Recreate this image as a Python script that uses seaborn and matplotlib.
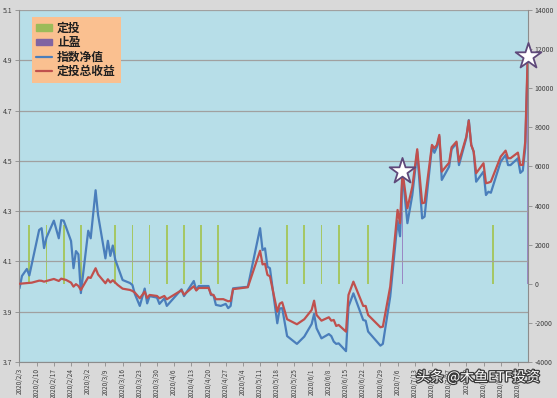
import numpy as np
import pandas as pd
import matplotlib
matplotlib.use('Agg')
import matplotlib.pyplot as plt
import matplotlib.dates as mdates
import matplotlib.patheffects as pe
from matplotlib.patches import Patch
from matplotlib.lines import Line2D
import seaborn as sns

sns.set_theme(style='white')
plt.rcParams['font.family'] = ['Noto Sans CJK SC', 'DejaVu Sans']
plt.rcParams['axes.unicode_minus'] = False

# ── data ────────────────────────────────────────────────────────────────────
# index net value (left axis)
nav_dates = ['2020-02-03', '2020-02-04', '2020-02-06', '2020-02-07', '2020-02-11', '2020-02-12',
             '2020-02-13', '2020-02-14', '2020-02-17', '2020-02-19', '2020-02-20', '2020-02-21',
             '2020-02-24', '2020-02-25', '2020-02-26', '2020-02-27', '2020-02-28', '2020-03-02',
             '2020-03-03', '2020-03-05', '2020-03-06', '2020-03-09', '2020-03-10', '2020-03-11',
             '2020-03-12', '2020-03-13', '2020-03-16', '2020-03-19', '2020-03-20', '2020-03-21',
             '2020-03-23', '2020-03-25', '2020-03-26', '2020-03-27', '2020-03-30', '2020-03-31',
             '2020-04-02', '2020-04-03', '2020-04-09', '2020-04-10', '2020-04-14', '2020-04-15',
             '2020-04-16', '2020-04-20', '2020-04-21', '2020-04-22', '2020-04-23', '2020-04-25',
             '2020-04-27', '2020-04-28', '2020-04-29', '2020-04-30', '2020-05-06', '2020-05-11',
             '2020-05-12', '2020-05-13', '2020-05-14', '2020-05-15', '2020-05-18', '2020-05-19',
             '2020-05-20', '2020-05-22', '2020-05-26', '2020-05-29', '2020-06-01', '2020-06-02',
             '2020-06-03', '2020-06-05', '2020-06-08', '2020-06-09', '2020-06-10', '2020-06-11',
             '2020-06-12', '2020-06-15', '2020-06-16', '2020-06-18', '2020-06-22', '2020-06-23',
             '2020-06-24', '2020-06-29', '2020-06-30', '2020-07-03', '2020-07-06', '2020-07-07',
             '2020-07-08', '2020-07-10', '2020-07-12', '2020-07-14', '2020-07-16', '2020-07-17',
             '2020-07-20', '2020-07-21', '2020-07-22', '2020-07-23', '2020-07-24', '2020-07-27',
             '2020-07-28', '2020-07-30', '2020-07-31', '2020-08-03', '2020-08-04', '2020-08-05',
             '2020-08-06', '2020-08-07', '2020-08-10', '2020-08-11', '2020-08-12', '2020-08-13',
             '2020-08-17', '2020-08-19', '2020-08-20', '2020-08-21', '2020-08-24', '2020-08-25',
             '2020-08-26', '2020-08-27', '2020-08-28']
nav_values = [3.993, 4.042, 4.070, 4.044, 4.225, 4.232,
              4.153, 4.195, 4.262, 4.192, 4.264, 4.262,
              4.181, 4.073, 4.141, 4.128, 3.974, 4.222,
              4.192, 4.383, 4.285, 4.112, 4.182, 4.122,
              4.163, 4.107, 4.026, 4.014, 4.006, 3.970,
              3.923, 3.992, 3.933, 3.962, 3.956, 3.931,
              3.953, 3.923, 3.989, 3.962, 4.022, 3.986,
              4.002, 4.002, 3.966, 3.966, 3.927, 3.923,
              3.931, 3.914, 3.923, 3.993, 3.999, 4.232,
              4.145, 4.152, 4.079, 4.073, 3.854, 3.913,
              3.914, 3.803, 3.772, 3.801, 3.851, 3.891,
              3.834, 3.794, 3.811, 3.803, 3.781, 3.772,
              3.774, 3.743, 3.920, 3.973, 3.867, 3.864,
              3.821, 3.765, 3.772, 3.960, 4.261, 4.200,
              4.450, 4.252, 4.364, 4.536, 4.271, 4.278,
              4.556, 4.532, 4.555, 4.596, 4.424, 4.477,
              4.546, 4.570, 4.483, 4.591, 4.662, 4.563,
              4.536, 4.417, 4.457, 4.364, 4.377, 4.373,
              4.497, 4.523, 4.483, 4.483, 4.510, 4.452,
              4.461, 4.551, 4.893]

# total return of the plan (right axis)
profit_dates = ['2020-02-03', '2020-02-08', '2020-02-11', '2020-02-12', '2020-02-13', '2020-02-17',
                '2020-02-19', '2020-02-20', '2020-02-22', '2020-02-24', '2020-02-25', '2020-02-26',
                '2020-02-27', '2020-02-28', '2020-03-02', '2020-03-03', '2020-03-05', '2020-03-06',
                '2020-03-09', '2020-03-10', '2020-03-11', '2020-03-12', '2020-03-14', '2020-03-16',
                '2020-03-19', '2020-03-20', '2020-03-21', '2020-03-23', '2020-03-25', '2020-03-26',
                '2020-03-27', '2020-03-30', '2020-03-31', '2020-04-02', '2020-04-03', '2020-04-09',
                '2020-04-10', '2020-04-14', '2020-04-15', '2020-04-16', '2020-04-20', '2020-04-21',
                '2020-04-22', '2020-04-23', '2020-04-26', '2020-04-28', '2020-04-29', '2020-04-30',
                '2020-05-06', '2020-05-11', '2020-05-12', '2020-05-13', '2020-05-14', '2020-05-15',
                '2020-05-18', '2020-05-19', '2020-05-20', '2020-05-22', '2020-05-26', '2020-05-29',
                '2020-06-01', '2020-06-02', '2020-06-03', '2020-06-05', '2020-06-08', '2020-06-09',
                '2020-06-10', '2020-06-11', '2020-06-12', '2020-06-15', '2020-06-16', '2020-06-18',
                '2020-06-22', '2020-06-23', '2020-06-24', '2020-06-29', '2020-06-30', '2020-07-03',
                '2020-07-06', '2020-07-07', '2020-07-08', '2020-07-10', '2020-07-12', '2020-07-14',
                '2020-07-16', '2020-07-17', '2020-07-20', '2020-07-21', '2020-07-22', '2020-07-23',
                '2020-07-24', '2020-07-27', '2020-07-28', '2020-07-30', '2020-07-31', '2020-08-03',
                '2020-08-04', '2020-08-05', '2020-08-06', '2020-08-07', '2020-08-10', '2020-08-11',
                '2020-08-12', '2020-08-13', '2020-08-17', '2020-08-19', '2020-08-20', '2020-08-21',
                '2020-08-24', '2020-08-25', '2020-08-26', '2020-08-27', '2020-08-28']
profit_values = [0, 56, 159, 150, 107, 245,
                 143, 261, 194, 56, -148, -20,
                 -113, -317, 332, 297, 793, 476,
                 26, 230, 66, 179, -61, -251,
                 -317, -368, -455, -742, -404, -726,
                 -573, -624, -742, -624, -793, -332,
                 -557, -128, -343, -215, -215, -532,
                 -573, -793, -788, -895, -880, -276,
                 -179, 1688, 987, 1028, 450, 384,
                 -1427, -1018, -946, -1815, -2071, -1815,
                 -1340, -865, -1596, -1887, -1713, -1887,
                 -1851, -2158, -2107, -2450, -573, 107,
                 -1135, -1135, -1596, -2225, -2194, -148,
                 3774, 3094, 5750, 3861, 4966, 6878,
                 4117, 4147, 7098, 6930, 7098, 7610,
                 5733, 6193, 6981, 7267, 6244, 7523,
                 8341, 7098, 6756, 5651, 6162, 5140,
                 5170, 5221, 6500, 6807, 6418, 6418,
                 6704, 6075, 6075, 7267, 11650]

# weekly purchases (green bars, right axis)
invest_dates = ['2020-02-07', '2020-02-14', '2020-02-21', '2020-02-28', '2020-03-13', '2020-03-20',
                '2020-03-27', '2020-04-03', '2020-04-10', '2020-04-17', '2020-04-24', '2020-05-22',
                '2020-05-29', '2020-06-05', '2020-06-12', '2020-06-24', '2020-08-14']
invest_amount = [3000] * len(invest_dates)

# take-profit points (purple bars + stars, right axis)
stop_dates = ['2020-07-08', '2020-08-28']
stop_profit = [5750, 11650]

labels = ['定投', '止盈', '指数净值', '定投总收益']

GREEN, PURPLE, BLUE, RED = '#9bbb59', '#8064a2', '#4a7ebb', '#c0504d'
BG = '#b7dee8'

nav = pd.DataFrame({'date': pd.to_datetime(nav_dates), 'nav': nav_values})
profit = pd.DataFrame({'date': pd.to_datetime(profit_dates), 'profit': profit_values})
inv = pd.DataFrame({'date': pd.to_datetime(invest_dates), 'amt': invest_amount})
stop = pd.DataFrame({'date': pd.to_datetime(stop_dates), 'amt': stop_profit})

# ── figure ──────────────────────────────────────────────────────────────────
fig = plt.figure(figsize=(5.57, 3.98), dpi=100, facecolor='#d9d9d9')
ax = fig.add_axes([0.035, 0.0905, 0.9124, 0.8845])
axb = ax.twinx()   # bars, right scale, behind the lines
axr = ax.twinx()   # return line + stars, right scale, on top

axb.set_zorder(1)
ax.set_zorder(2)
axr.set_zorder(3)
axb.patch.set_facecolor(BG)
axb.patch.set_visible(True)
ax.patch.set_visible(False)
axr.patch.set_visible(False)

axb.bar(inv['date'], inv['amt'], width=0.7, color='#a5c765', linewidth=0)
axb.bar(stop['date'], stop['amt'], width=0.6, color='#9a88c4', linewidth=0)

sns.lineplot(data=nav, x='date', y='nav', ax=ax, color=BLUE, linewidth=1.6)
sns.lineplot(data=profit, x='date', y='profit', ax=axr, color=RED, linewidth=1.6)
sns.scatterplot(data=stop, x='date', y='amt', ax=axr, marker='*', s=380,
                color='white', edgecolor='#5f497a', linewidth=1.3, zorder=5, clip_on=False)

xmin, xmax = pd.Timestamp('2020-02-03'), pd.Timestamp('2020-08-28')
for a in (ax, axb, axr):
    a.set_xlim(xmin, xmax)
    a.set_xlabel('')
    a.set_ylabel('')

ax.set_ylim(3.7, 5.1)
ax.set_yticks(np.round(np.arange(3.7, 5.11, 0.2), 1))
ax.yaxis.set_major_formatter(plt.FuncFormatter(lambda v, p: f'{v:.1f}'))
axb.set_ylim(-4000, 14000)
axr.set_ylim(-4000, 14000)
axr.set_yticks(range(-4000, 14001, 2000))
axb.set_yticks([])

ax.xaxis.set_major_locator(mdates.WeekdayLocator(byweekday=mdates.MO))
ax.xaxis.set_major_formatter(plt.FuncFormatter(
    lambda v, p: (lambda d: f'{d.year}/{d.month}/{d.day}')(mdates.num2date(v))))

ax.grid(axis='y', color='#a0a0a0', linewidth=0.9)
ax.grid(axis='x', visible=False)

ax.tick_params(axis='x', bottom=True, length=3, width=0.6, color='#8c8c8c',
               labelsize=4.6, labelcolor='#404040', pad=1.5, labelrotation=90)
ax.tick_params(axis='y', left=True, length=3, width=0.6, color='#8c8c8c',
               labelsize=5, labelcolor='#404040', pad=2)
axr.tick_params(axis='y', right=True, length=3, width=0.6, color='#8c8c8c',
                labelsize=5, labelcolor='#404040', pad=2)

for a in (ax, axb, axr):
    for s in a.spines.values():
        s.set_visible(False)
ax.spines['left'].set_visible(True)
ax.spines['bottom'].set_visible(True)
axr.spines['right'].set_visible(True)
for s in (ax.spines['left'], ax.spines['bottom'], axr.spines['right']):
    s.set_color('#8c8c8c')
    s.set_linewidth(0.8)

handles = [Patch(color=GREEN), Patch(color=PURPLE),
           Line2D([], [], color=BLUE, linewidth=1.6), Line2D([], [], color=RED, linewidth=1.6)]
leg = axr.legend(handles, labels, loc='upper left', bbox_to_anchor=(0.024, 0.98),
                 frameon=True, facecolor='#fac090', edgecolor='none', framealpha=1,
                 fancybox=False, prop={'size': 8.5, 'weight': 'bold'},
                 handlelength=1.3, handleheight=0.5, labelspacing=0.12,
                 borderpad=0.4, handletextpad=0.45, borderaxespad=0)
for t in leg.get_texts():
    t.set_color('#202020')

fig.text(0.858, 0.052, '头条 @木鱼ETF投资', color='white', fontsize=10,
         ha='center', va='center',
         path_effects=[pe.withStroke(linewidth=1.8, foreground='#3a3a3a')])

fig.savefig('out.png', dpi=100, facecolor=fig.get_facecolor())
